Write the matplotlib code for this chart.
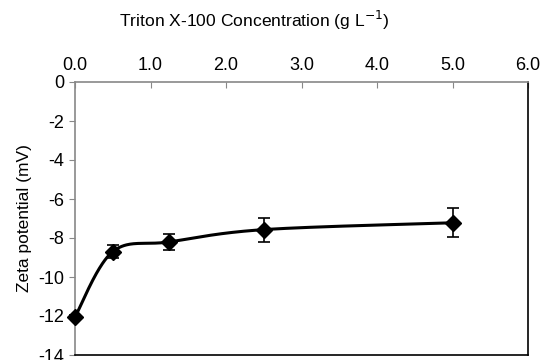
import numpy as np
import matplotlib
matplotlib.use("Agg")
import matplotlib.pyplot as plt

plt.rcParams['font.family'] = ['Liberation Sans', 'DejaVu Sans']

conc = [0.0, 0.5, 1.25, 2.5, 5.0]
zeta = [-12.05, -8.7, -8.2, -7.57, -7.22]
err = [0.1, 0.35, 0.4, 0.62, 0.74]
xticks = [0, 1, 2, 3, 4, 5, 6]
yticks = [0, -2, -4, -6, -8, -10, -12, -14]


def smooth(xs, ys, n=60):
    # Excel-like Catmull-Rom smoothing through the points
    xs = np.asarray(xs, float); ys = np.asarray(ys, float)
    P = np.column_stack([xs, ys])
    P = np.vstack([P[0], P, P[-1]])
    out = []
    for i in range(1, len(P) - 2):
        p0, p1, p2, p3 = P[i - 1], P[i], P[i + 1], P[i + 2]
        m1 = (p2 - p0) * 0.5
        m2 = (p3 - p1) * 0.5
        s = np.linspace(0, 1, n)[:, None]
        h00 = 2 * s**3 - 3 * s**2 + 1
        h10 = s**3 - 2 * s**2 + s
        h01 = -2 * s**3 + 3 * s**2
        h11 = s**3 - s**2
        seg = h00 * p1 + h10 * m1 + h01 * p2 + h11 * m2
        out.append(seg)
    c = np.vstack(out)
    return c[:, 0], c[:, 1]


fig = plt.figure(figsize=(5.41, 3.6), dpi=100)
ax = fig.add_axes([75 / 541, 5 / 360, 453 / 541, 273 / 360])

sx, sy = smooth(conc, zeta)
ax.plot(sx, sy, color='black', lw=2.2, zorder=2)
ax.errorbar(conc, zeta, yerr=err, fmt='D', color='black', ms=8, ecolor='black',
            elinewidth=1.2, capsize=4, capthick=1.2, zorder=3, clip_on=False)

fs = 13
ax.set_xlim(0, 6)
ax.set_ylim(-14, 0)
ax.xaxis.tick_top()
ax.set_xticks(xticks)
ax.set_xticklabels([f"{v:.1f}" for v in xticks])
ax.set_yticks(yticks)
ax.set_yticklabels([f"{v}" for v in yticks])
ax.tick_params(axis='x', direction='in', length=4, color='#888888', labelsize=fs, pad=6)
ax.tick_params(axis='y', direction='out', length=4, color='#888888', labelsize=fs, pad=4)
ax.spines['left'].set_color('#888888')
ax.spines['top'].set_color('#888888')
ax.spines['right'].set_color('black')
ax.spines['bottom'].set_color('black')
for s in ax.spines.values():
    s.set_linewidth(1.2)
fig.text(254 / 541, 1 - 20 / 360, 'Triton X-100 Concentration (g L$^{\\mathsf{-1}}$)',
         fontsize=12.6, ha='center', va='center')
ax.set_ylabel('Zeta potential (mV)', fontsize=12.5, labelpad=4)

fig.savefig('out.png', dpi=100)
